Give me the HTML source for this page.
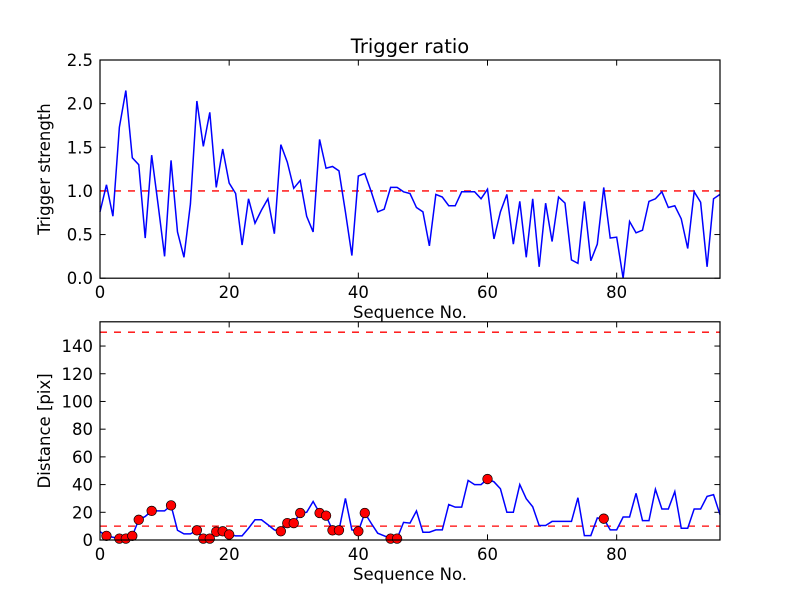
<!DOCTYPE html>
<html><head><meta charset="utf-8"><style>
html,body{margin:0;padding:0;background:#fff;}
svg{display:block;font-family:"DejaVu Sans","Liberation Sans",sans-serif;}
</style></head><body>
<svg id="chart" width="800" height="600" viewBox="0 0 800 600">
<rect width="800" height="600" fill="#fff"/>
</svg>
<script>
const xTicks = [0,20,40,60,80];
const topYTicks = [0,0.5,1.0,1.5,2.0,2.5];
const botYTicks = [0,20,40,60,80,100,120,140];
const ratio = [0.76,1.07,0.71,1.73,2.15,1.38,1.30,0.46,1.41,0.84,0.25,1.35,0.53,0.24,0.85,2.03,1.51,1.90,1.04,1.48,
1.09,0.97,0.38,0.91,0.63,0.78,0.91,0.51,1.53,1.33,1.03,1.12,0.71,0.53,1.59,1.26,1.28,1.23,0.76,0.26,
1.17,1.20,0.99,0.76,0.79,1.04,1.04,0.99,0.97,0.81,0.76,0.37,0.96,0.93,0.83,0.83,0.99,0.99,0.99,0.91,
1.02,0.45,0.76,0.96,0.39,0.88,0.24,0.91,0.13,0.86,0.42,0.93,0.86,0.21,0.17,0.88,0.20,0.39,1.04,0.46,
0.47,0.00,0.65,0.52,0.55,0.88,0.91,0.99,0.81,0.83,0.68,0.34,0.99,0.87,0.13,0.91,0.96];
const distance = [6,3,2,1,1,3,14.6,17,21,21,21,25,7,4.4,4.4,7,1,1,6,6.3,
4,3,3,8.5,14.6,14.6,11,7.3,6.3,12.2,12.2,19.5,20,27.8,19.5,17.6,7,7,30,7.3,
6.3,19.5,12,4.9,3,1,1,12.7,12.2,21,5.6,5.6,7.3,7.3,25.6,23.7,23.7,43,40,40,
44,42,37,20,20,40,29.8,24,10.5,10.5,13.4,13.4,13.4,13.4,30.5,3.2,3.2,15.9,15.4,7.3,
7.3,16.6,16.6,33.7,14,14,36.6,22.4,22.4,34.9,8.5,8.5,22.4,22.4,31.5,32.7,18.3];
const markerIdx = [1,3,4,5,6,8,11,15,16,17,18,19,20,28,29,30,31,34,35,36,37,40,41,45,46,60,78];
const ratioThreshold = [1.0];
const distThresholds = [10,150];

const NS="http://www.w3.org/2000/svg";
const svg=document.getElementById('chart');
function el(t,a,p){const e=document.createElementNS(NS,t);for(const k in a)e.setAttribute(k,a[k]);(p||svg).appendChild(e);return e;}
const L=100,R=720,XMAX=96;
const sx=v=>L+(R-L)*v/XMAX;

function axes(name,top,bot,ymax,yTicks,fmt,ylabel){
  const sy=v=>bot-(bot-top)*v/ymax;
  const g=el('g',{});
  
  
  xTicks.forEach(t=>{
    const x=sx(t);
    el('line',{x1:x,x2:x,y1:bot,y2:bot-5.6,stroke:'#000','stroke-width':1},g);
    el('line',{x1:x,x2:x,y1:top,y2:top+5.6,stroke:'#000','stroke-width':1},g);
    const tx=el('text',{x:x,y:bot+20,'font-size':16.5,'text-anchor':'middle'},g);
    tx.textContent=t;
    
    
  });
  yTicks.forEach(t=>{
    const y=sy(t);
    el('line',{x1:L,x2:L+5.6,y1:y,y2:y,stroke:'#000','stroke-width':1},g);
    el('line',{x1:R,x2:R-5.6,y1:y,y2:y,stroke:'#000','stroke-width':1},g);
    const tx=el('text',{x:L-7,y:y+6,'font-size':16.5,'text-anchor':'end'},g);
    tx.textContent=fmt(t);
    
    
  });
  const xl=el('text',{x:(L+R)/2,y:bot+40,'font-size':16.5,'text-anchor':'middle'},g);
  xl.textContent='Sequence No.';
  
  
  const yl=el('text',{x:0,y:0,'font-size':16.5,'text-anchor':'middle',transform:`translate(${L-50},${(top+bot)/2}) rotate(-90)`},g);
  yl.textContent=ylabel;
  
  
  return {sy,g};
}

// Top plot
const T=axes('top-axes',60,278.2,2.5,topYTicks,v=>v.toFixed(1),'Trigger strength');
ratioThreshold.forEach(v=>{
  const ln=el('line',{x1:L,x2:R,y1:T.sy(v),y2:T.sy(v),stroke:'#f00','stroke-width':1.3,'stroke-dasharray':'7,7'});
  
  
});
const p1=el('polyline',{points:ratio.map((v,i)=>sx(i)+','+T.sy(v)).join(' '),fill:'none',stroke:'#00f','stroke-width':1.5});


el('rect',{x:L,y:60,width:R-L,height:218.2,fill:'none',stroke:'#000','stroke-width':1.2});
const title=el('text',{x:(L+R)/2,y:53,'font-size':19.5,'text-anchor':'middle'});
title.textContent='Trigger ratio';



// Bottom plot
const B=axes('bottom-axes',321.8,540,157.5,botYTicks,v=>String(v),'Distance [pix]');
distThresholds.forEach(v=>{
  const ln=el('line',{x1:L,x2:R,y1:B.sy(v),y2:B.sy(v),stroke:'#f00','stroke-width':1.3,'stroke-dasharray':'7,7'});
  
  
});
const p2=el('polyline',{points:distance.map((v,i)=>sx(i)+','+B.sy(v)).join(' '),fill:'none',stroke:'#00f','stroke-width':1.5});


markerIdx.forEach(i=>{
  const c=el('circle',{cx:sx(i),cy:B.sy(distance[i]),r:4.8,fill:'#f00',stroke:'#000','stroke-width':0.7});
  
  
});
el('rect',{x:L,y:321.8,width:R-L,height:218.2,fill:'none',stroke:'#000','stroke-width':1.2});
</script>
</body></html>
